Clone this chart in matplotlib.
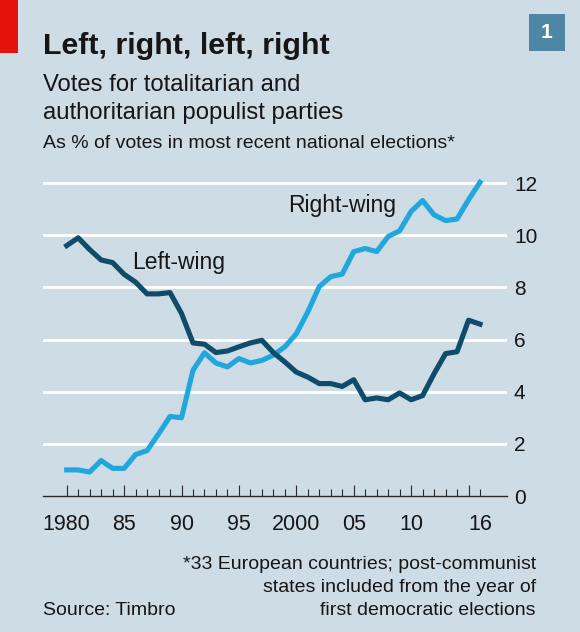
import matplotlib
matplotlib.use('Agg')
import matplotlib.pyplot as plt
from matplotlib.patches import Rectangle

# data, % of votes
years = list(range(1980, 2017))
left_wing = [9.6, 9.9, 9.45, 9.05, 8.95, 8.5, 8.2, 7.75, 7.75, 7.8,
             7.0, 5.87, 5.82, 5.5, 5.56, 5.72, 5.87, 5.97, 5.5, 5.14,
             4.75, 4.56, 4.31, 4.31, 4.2, 4.46, 3.69, 3.76, 3.69, 3.95,
             3.69, 3.85, 4.69, 5.46, 5.53, 6.74, 6.59]
right_wing = [1.0, 1.0, 0.92, 1.36, 1.06, 1.06, 1.59, 1.74, 2.38, 3.05,
              3.0, 4.82, 5.49, 5.1, 4.95, 5.27, 5.1, 5.2, 5.4, 5.72,
              6.22, 7.06, 8.03, 8.41, 8.51, 9.37, 9.49, 9.37, 9.95, 10.17,
              10.91, 11.33, 10.78, 10.56, 10.62, 11.36, 12.03]
yticks = [0, 2, 4, 6, 8, 10, 12]
xlabel_pos = [1980, 1985, 1990, 1995, 2000, 2005, 2010, 2016]
xlabels = ['1980', '85', '90', '95', '2000', '05', '10', '16']

bg = '#cddce5'
dark = '#0f4c69'
light = '#22a7dd'
txt = '#161616'

plt.rcParams['font.family'] = ['Liberation Sans', 'DejaVu Sans']

W, H = 580, 632
fig = plt.figure(figsize=(W / 100, H / 100), dpi=100)
fig.patch.set_facecolor(bg)

def fx(px):
    return px / W

def fy(py):
    return 1 - py / H

# red tag top left and chart number box
fig.add_artist(Rectangle((0, fy(53)), fx(17.5), 53 / H, transform=fig.transFigure,
                         facecolor='#e3120b', edgecolor='none'))
fig.add_artist(Rectangle((fx(529), fy(51)), fx(36), 37 / H, transform=fig.transFigure,
                         facecolor='#4e87a6', edgecolor='none'))
fig.text(fx(547), fy(32.5), '1', color='white', fontsize=15, fontweight='bold',
         ha='center', va='center')

# titles
fig.text(fx(43), fy(54), 'Left, right, left, right', fontsize=21.9, fontweight='bold',
         color=txt, va='baseline')
fig.text(fx(43), fy(90.7), 'Votes for totalitarian and', fontsize=17.2, color=txt, va='baseline')
fig.text(fx(43), fy(119), 'authoritarian populist parties', fontsize=17.2, color=txt, va='baseline')
fig.text(fx(43), fy(148), 'As % of votes in most recent national elections*', fontsize=14,
         color=txt, va='baseline')

# footnotes
fig.text(fx(536), fy(569), '*33 European countries; post-communist', fontsize=14,
         color=txt, ha='right', va='baseline')
fig.text(fx(536), fy(592), 'states included from the year of', fontsize=14,
         color=txt, ha='right', va='baseline')
fig.text(fx(536), fy(615), 'first democratic elections', fontsize=14,
         color=txt, ha='right', va='baseline')
fig.text(fx(43), fy(615), 'Source: Timbro', fontsize=14, color=txt, va='baseline')

# plot area
ax = fig.add_axes([fx(43), fy(496), fx(464), 326 / H])
ax.set_facecolor(bg)
px_year = (480 - 66.7) / 36
x0 = 1980 - (66.7 - 43) / px_year
ax.set_xlim(x0, x0 + 464 / px_year)
ax.set_ylim(0, 326 / 26.08)

for v in yticks[1:]:
    ax.axhline(v, color='white', lw=2, zorder=1)

ax.plot(years, right_wing, color=light, lw=3.7, zorder=3, clip_on=False)
ax.plot(years, left_wing, color=dark, lw=3.7, zorder=4, clip_on=False)

ax.text(1985.7, 8.7, 'Left-wing', fontsize=16.5, color=txt, va='baseline')
ax.text(1999.3, 10.9, 'Right-wing', fontsize=16.5, color=txt, va='baseline')

for s in ['top', 'left', 'right']:
    ax.spines[s].set_visible(False)
ax.spines['bottom'].set_color('#2a2a2a')
ax.spines['bottom'].set_linewidth(1.0)

ax.yaxis.tick_right()
ax.set_yticks(yticks)
ax.set_yticklabels([str(v) for v in yticks])
ax.tick_params(axis='y', length=0, pad=5, labelsize=15, labelcolor=txt)

ax.set_xticks(list(range(1980, 2016, 5)))
ax.set_xticks(years, minor=True)
ax.set_xticklabels([])
ax.tick_params(axis='x', which='major', direction='in', length=8, width=0.8, color='#2a2a2a')
ax.tick_params(axis='x', which='minor', direction='in', length=5, width=0.8, color='#2a2a2a')

sec = ax.secondary_xaxis('bottom')
sec.set_xticks(xlabel_pos)
sec.set_xticklabels(xlabels)
sec.tick_params(length=0, pad=13, labelsize=15.5, labelcolor=txt)
sec.spines['bottom'].set_visible(False)

fig.savefig('out.png', dpi=100, facecolor=bg)
